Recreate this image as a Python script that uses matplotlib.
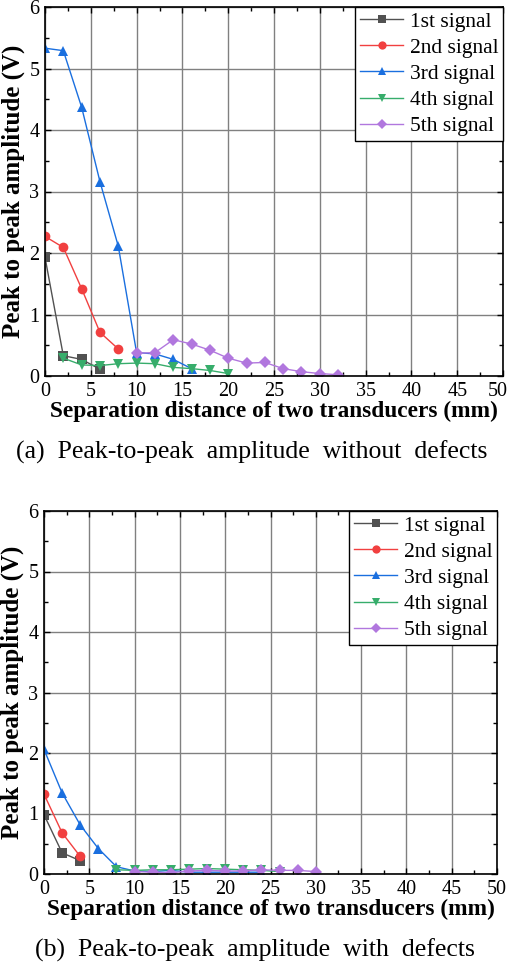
import matplotlib
matplotlib.use("Agg")
import matplotlib.pyplot as plt
import matplotlib.transforms as mtransforms
from matplotlib.ticker import MultipleLocator

plt.rcParams['font.family'] = ['Liberation Serif', 'DejaVu Serif']

labels = ['1st signal', '2nd signal', '3rd signal', '4th signal', '5th signal']
colors = ['#515151', '#F14040', '#1A6FDF', '#37AD6B', '#B177DE']
markers = ['s', 'o', '^', 'v', 'D']

# (a) without defects
a_x1 = [0, 2, 4, 6]
a_y1 = [1.93, 0.33, 0.27, 0.11]
a_x2 = [0, 2, 4, 6, 8]
a_y2 = [2.27, 2.09, 1.42, 0.71, 0.44]
a_x3 = [0, 2, 4, 6, 8, 10, 12, 14, 16]
a_y3 = [5.33, 5.29, 4.37, 3.16, 2.11, 0.38, 0.36, 0.27, 0.12]
a_x4 = [2, 4, 6, 8, 10, 12, 14, 16, 18, 20]
a_y4 = [0.29, 0.18, 0.17, 0.20, 0.21, 0.20, 0.14, 0.12, 0.09, 0.04]
a_x5 = [10, 12, 14, 16, 18, 20, 22, 24, 26, 28, 30, 32]
a_y5 = [0.37, 0.38, 0.59, 0.52, 0.42, 0.29, 0.21, 0.22, 0.12, 0.07, 0.04, 0.02]

# (b) with defects
b_x1 = [0, 2, 4]
b_y1 = [0.98, 0.35, 0.22]
b_x2 = [0, 2, 4]
b_y2 = [1.32, 0.68, 0.29]
b_x3 = [0, 2, 4, 6, 8, 10, 12, 14, 16, 18, 20, 22, 24]
b_y3 = [2.06, 1.34, 0.81, 0.42, 0.12, 0.05, 0.04, 0.06, 0.03, 0.03, 0.03, 0.03, 0.03]
b_x4 = [8, 10, 12, 14, 16, 18, 20, 22, 24, 26]
b_y4 = [0.07, 0.06, 0.07, 0.07, 0.08, 0.09, 0.08, 0.07, 0.06, 0.04]
b_x5 = [10, 12, 14, 16, 18, 20, 22, 24, 26, 28, 30]
b_y5 = [0.04, 0.03, 0.02, 0.05, 0.06, 0.05, 0.05, 0.07, 0.06, 0.06, 0.04]


def draw_panel(ax, series):
    for (xs, ys), lab, c, m in zip(series, labels, colors, markers):
        ms = 7 if m != 'D' else 6.5
        ax.plot(xs, ys, color=c, marker=m, markersize=ms, linewidth=1.0,
                label=lab, markeredgewidth=0)
    ax.set_xlim(0, 50)
    ax.set_ylim(0, 6)
    ax.xaxis.set_major_locator(MultipleLocator(5))
    ax.xaxis.set_minor_locator(MultipleLocator(2.5))
    ax.yaxis.set_major_locator(MultipleLocator(1))
    ax.yaxis.set_minor_locator(MultipleLocator(0.5))
    ax.grid(True, which='major', color='#808080', linewidth=1.0)
    ax.set_axisbelow(True)
    ax.tick_params(which='both', direction='in', top=True, right=True,
                   labelsize=14.5, width=1.0, pad=4)
    ax.tick_params(which='major', length=4)
    ax.tick_params(which='minor', length=3)
    for s in ax.spines.values():
        s.set_linewidth(1.2)
    ax.set_xlabel('Separation distance of two transducers (mm)',
                  fontsize=16.8, fontweight='bold', labelpad=0)
    ax.set_ylabel('Peak to peak amplitude (V)', fontsize=18,
                  fontweight='bold', labelpad=3)
    leg = ax.legend(loc='upper right', fontsize=15.5, frameon=True,
                    fancybox=False, borderaxespad=0, handlelength=2.0,
                    handletextpad=0.3, labelspacing=0.28, borderpad=0.22,
                    markerscale=0.85)
    leg.get_frame().set_edgecolor('black')
    leg.get_frame().set_linewidth(1.0)
    leg.get_frame().set_alpha(1)


fig = plt.figure(figsize=(5.11, 9.67), dpi=100)
ax1 = fig.add_axes([45 / 511, 1 - 376 / 967, 458 / 511, 369 / 967])
ax2 = fig.add_axes([44 / 511, 1 - 874 / 967, 453 / 511, 363 / 967])

draw_panel(ax1, [(a_x1, a_y1), (a_x2, a_y2), (a_x3, a_y3), (a_x4, a_y4), (a_x5, a_y5)])
draw_panel(ax2, [(b_x1, b_y1), (b_x2, b_y2), (b_x3, b_y3), (b_x4, b_y4), (b_x5, b_y5)])

# nudge the "50" of the top panel so it stays inside the figure
fig.canvas.draw()
last = ax1.xaxis.get_major_ticks()[-1]
for t in ax1.xaxis.get_major_ticks():
    if abs(t.get_loc() - 50) < 1e-6:
        last = t
last.label1.set_transform(last.label1.get_transform() +
                          mtransforms.ScaledTranslation(-5 / 100, 0, fig.dpi_scale_trans))

fig.text(252 / 511, 1 - 452 / 967, '(a)  Peak-to-peak  amplitude  without  defects',
         ha='center', va='center', fontsize=18.5)
fig.text(255 / 511, 1 - 950 / 967, '(b)  Peak-to-peak  amplitude  with  defects',
         ha='center', va='center', fontsize=18.5)

fig.savefig('out.png', dpi=100)
